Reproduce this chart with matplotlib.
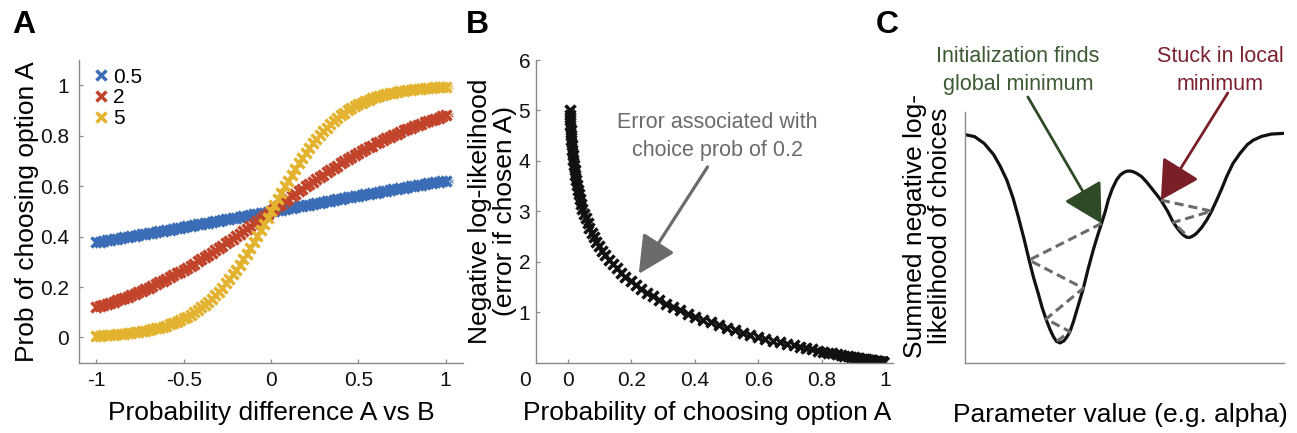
import numpy as np
import matplotlib
matplotlib.use("Agg")
import matplotlib.pyplot as plt

plt.rcParams['font.family'] = ['Liberation Sans', 'DejaVu Sans']

# ---------------- data ----------------
prob_diff = np.round(np.arange(-50, 51) * 0.02, 2)   # x grid for panel A

temp_labels = ['0.5', '2', '5']
p_low = [.378,.380,.382,.385,.387,.389,.392,.394,.397,.399,.401,.404,.406,.409,.411,.413,.416,.418,.421,.423,
         .426,.428,.430,.433,.435,.438,.440,.443,.445,.448,.450,.453,.455,.458,.460,.463,.465,.468,.470,.473,
         .475,.478,.480,.483,.485,.488,.490,.493,.495,.498,
         .500,.502,.505,.507,.510,.512,.515,.517,.520,.522,.525,.527,.530,.532,.535,.537,.540,.542,.545,.547,
         .550,.552,.555,.557,.560,.562,.565,.567,.570,.572,.574,.577,.579,.582,.584,.587,.589,.591,.594,.596,
         .599,.601,.603,.606,.608,.611,.613,.615,.618,.620,.622]
p_mid = [.119,.123,.128,.132,.137,.142,.147,.152,.157,.162,.168,.174,.179,.185,.192,.198,.204,.211,.218,.224,
         .231,.239,.246,.254,.261,.269,.277,.285,.293,.302,.310,.319,.327,.336,.345,.354,.364,.373,.382,.392,
         .401,.411,.421,.430,.440,.450,.460,.470,.480,.490,
         .500,.510,.520,.530,.540,.550,.560,.570,.579,.589,.599,.608,.618,.627,.636,.646,.655,.664,.673,.681,
         .690,.698,.707,.715,.723,.731,.739,.746,.754,.761,.769,.776,.782,.789,.796,.802,.808,.815,.821,.826,
         .832,.838,.843,.848,.853,.858,.863,.868,.872,.877,.881]
p_high = [.007,.007,.008,.009,.010,.011,.012,.013,.015,.016,.018,.020,.022,.024,.027,.029,.032,.036,.039,.043,
          .047,.052,.057,.063,.069,.076,.083,.091,.100,.109,.119,.130,.142,.154,.168,.182,.198,.214,.231,.250,
          .269,.289,.310,.332,.354,.378,.401,.426,.450,.475,
          .500,.525,.550,.574,.599,.622,.646,.668,.690,.711,.731,.750,.769,.786,.802,.818,.832,.846,.858,.870,
          .881,.891,.900,.909,.917,.924,.931,.937,.943,.948,.953,.957,.961,.964,.968,.971,.973,.976,.978,.980,
          .982,.984,.985,.987,.988,.989,.990,.991,.992,.993,.993]
end_x = [1.03]
end_vals = [[0.622], [0.881], [0.993]]

# panel B: probability of choosing A and its negative log-likelihood
prob_A = p_high
neg_ll = [5.007,4.907,4.808,4.709,4.610,4.511,4.412,4.313,4.215,4.116,4.018,3.920,3.822,3.724,3.627,3.530,3.433,
          3.336,3.240,3.144,3.049,2.954,2.859,2.765,2.672,2.579,2.487,2.396,2.305,2.216,2.127,2.039,1.953,1.868,
          1.784,1.701,1.620,1.541,1.463,1.387,1.313,1.241,1.171,1.103,1.037,0.974,0.913,0.854,0.798,0.744,
          0.693,.644,.598,.554,.513,.474,.437,.403,.371,.341,.313,.287,.263,.241,.220,.201,.184,.168,.153,.139,
          .127,.115,.105,.096,.087,.079,.072,.065,.059,.054,.049,.044,.040,.036,.033,.030,.027,.024,.022,.020,
          .018,.016,.015,.013,.012,.011,.010,.009,.008,.007,.007]

# panel C: schematic likelihood surface
param_x = [0, 0.3, 0.6, 0.9, 1.1, 1.31, 1.5, 1.67, 1.85, 2.01, 2.15, 2.3, 2.42, 2.54, 2.66, 2.77, 2.87,
           2.98, 3.10, 3.20, 3.29, 3.40, 3.50, 3.61, 3.71, 3.86, 4.02, 4.15, 4.28, 4.40, 4.49, 4.62, 4.75,
           4.86, 4.96, 5.07, 5.17, 5.27, 5.36, 5.45, 5.54, 5.70, 5.85, 6.00, 6.14, 6.35, 6.53, 6.65, 6.75,
           6.85, 6.95, 7.03, 7.10, 7.18, 7.26, 7.42, 7.58, 7.73, 7.89, 8.05, 8.20, 8.40, 8.62, 8.85, 9.04,
           9.30, 9.60, 10]
surface_y = [9.10, 9.02, 8.75, 8.30, 7.85, 7.29, 6.60, 5.83, 4.95, 4.10, 3.40, 2.75, 2.20, 1.75, 1.35, 1.05,
             0.86, 0.80, 0.88, 1.05, 1.25, 1.65, 2.08, 2.55, 2.98, 3.75, 4.50, 5.05, 5.56, 6.05, 6.49, 6.95,
             7.29, 7.48, 7.58, 7.64, 7.65, 7.62, 7.57, 7.50, 7.42, 7.20, 6.96, 6.72, 6.49, 6.05, 5.60, 5.38,
             5.22, 5.09, 5.01, 5.00, 5.03, 5.09, 5.17, 5.40, 5.70, 6.05, 6.49, 6.95, 7.42, 7.95, 8.35, 8.70,
             8.88, 9.03, 9.12, 9.15]
path_global_x = [4.28, 2.01, 3.71, 2.54, 3.29, 2.87]
path_global_y = [5.56, 4.10, 2.98, 1.75, 1.25, 0.86]
path_local_x = [6.14, 7.73, 6.53, 7.00]
path_local_y = [6.49, 6.05, 5.60, 5.02]

# ---------------- style ----------------
W, H = 1297, 433
fig = plt.figure(figsize=(W / 100, H / 100), dpi=100)

def px_axes(l, t, r, b):
    return fig.add_axes([l / W, 1 - b / H, (r - l) / W, (b - t) / H])

spine_col = '#8a8a8a'
tick_fs = 15
note_fs = 15.5
label_fs = 19
colors = ['#3a6db5', '#c1432a', '#e3b22e']

def style(ax, pad_x=6, pad_y=6):
    for s in ['top', 'right']:
        ax.spines[s].set_visible(False)
    for s in ['left', 'bottom']:
        ax.spines[s].set_color(spine_col)
        ax.spines[s].set_linewidth(1.0)
    ax.tick_params(direction='in', length=3, width=0.9, color=spine_col, labelsize=tick_fs, labelcolor='#111111')
    ax.tick_params(axis='x', pad=pad_x)
    ax.tick_params(axis='y', pad=pad_y)

# ---------------- panel A ----------------
axA = px_axes(79, 60, 463, 362.7)
style(axA, 6, 7)
for vals, c, lab, ev in zip([p_low, p_mid, p_high], colors, temp_labels, end_vals):
    axA.plot(prob_diff, vals, linestyle='none', marker='x', ms=7, mew=2.5, color=c, label=lab)
    axA.plot(end_x, ev, linestyle='none', marker='x', ms=3.5, mew=0.8, color=c, alpha=0.8)
axA.set_xlim(-1.1, 1.1)
axA.set_ylim(-0.1, 1.1)
axA.set_xticks([-1, -0.5, 0, 0.5, 1])
axA.set_xticklabels(['-1', '-0.5', '0', '0.5', '1'])
axA.set_yticks([0, 0.2, 0.4, 0.6, 0.8, 1])
axA.set_yticklabels(['0', '0.2', '0.4', '0.6', '0.8', '1'])
leg = axA.legend(loc='upper left', bbox_to_anchor=(0.042, 0.975), frameon=False, fontsize=tick_fs,
                 handlelength=0.6, handletextpad=0.25, labelspacing=0.08, borderpad=0, borderaxespad=0,
                 markerscale=1.0)
axA.set_xlabel('Probability difference A vs B', fontsize=label_fs)
axA.xaxis.label.set_va('center')
axA.xaxis.set_label_coords(0.5, -0.166)
axA.set_ylabel('Prob of choosing option A', fontsize=label_fs)
axA.yaxis.label.set_va('center')
axA.yaxis.set_label_coords(-0.135, 0.5)

# ---------------- panel B ----------------
axB = px_axes(535.7, 60, 893, 362.7)
style(axB, 6, 4)
axB.plot(prob_A, neg_ll, linestyle='none', marker='x', ms=7, mew=2.5, color='#111111')
axB.set_xlim(-0.1, 1.023)
axB.set_ylim(0, 6)
axB.set_xticks([0, 0.2, 0.4, 0.6, 0.8, 1])
axB.set_xticklabels(['0', '0.2', '0.4', '0.6', '0.8', '1'])
axB.set_yticks([1, 2, 3, 4, 5, 6])
axB.annotate('0', xy=(-0.134, 0), xytext=(0, -6), textcoords='offset points', ha='center', va='top',
             fontsize=tick_fs, color='#111111', annotation_clip=False)
axB.annotate('', xy=(0.224, 1.76), xytext=(0.44, 3.88),
             arrowprops=dict(arrowstyle='-|>,head_length=1.0,head_width=0.5', mutation_scale=23,
                             lw=2.3, color='#6b6b6b', shrinkA=0, shrinkB=0))
axB.text(0.47, 4.49, 'Error associated with\nchoice prob of 0.2', ha='center', va='center',
         fontsize=note_fs, color='#6b6b6b', linespacing=1.45)
axB.set_xlabel('Probability of choosing option A', fontsize=label_fs)
axB.xaxis.label.set_va('center')
axB.xaxis.set_label_coords(0.479, -0.166)
axB.set_ylabel('Negative log-likelihood\n(error if chosen A)', fontsize=label_fs, linespacing=1.05)
axB.yaxis.label.set_va('center')
axB.yaxis.set_label_coords(-0.12, 0.5)

# ---------------- panel C ----------------
axC = px_axes(965, 112, 1284, 363)
style(axC)
axC.set_xticks([])
axC.set_yticks([])
axC.set_xlim(0, 10)
axC.set_ylim(0, 10)
axC.plot(param_x, surface_y, color='#111111', lw=2.3, solid_joinstyle='round')
axC.plot(path_global_x, path_global_y, color='#6b6b6b', lw=2.2, linestyle=(0, (3, 1.6)))
axC.plot(path_local_x, path_local_y, color='#6b6b6b', lw=2.2, linestyle=(0, (3, 1.6)))
green = '#2e4a26'
red = '#7a1e27'
axC.annotate('', xy=(4.28, 5.56), xytext=(1.97, 10.6),
             arrowprops=dict(arrowstyle='-|>,head_length=1.0,head_width=0.55', mutation_scale=24,
                             lw=2.0, color=green, shrinkA=0, shrinkB=0), annotation_clip=False)
axC.annotate('', xy=(6.14, 6.49), xytext=(8.24, 10.76),
             arrowprops=dict(arrowstyle='-|>,head_length=1.0,head_width=0.55', mutation_scale=24,
                             lw=2.0, color=red, shrinkA=0, shrinkB=0), annotation_clip=False)
axC.text(1.66, 11.65, 'Initialization finds\nglobal minimum', ha='center', va='center',
         fontsize=note_fs, color='#3c5a32', linespacing=1.45, clip_on=False)
axC.text(7.99, 11.65, 'Stuck in local\nminimum', ha='center', va='center',
         fontsize=note_fs, color='#7d2030', linespacing=1.45, clip_on=False)
axC.set_xlabel('Parameter value (e.g. alpha)', fontsize=label_fs)
axC.xaxis.label.set_va('center')
axC.xaxis.set_label_coords(0.486, -0.207)
axC.set_ylabel('Summed negative log-\nlikelihood of choices', fontsize=label_fs, linespacing=1.05)
axC.yaxis.label.set_va('center')
axC.yaxis.set_label_coords(-0.119, 0.546)

# panel letters
for lab, xpx in [('A', 23.5), ('B', 477.5), ('C', 887)]:
    fig.text(xpx / W, 1 - 25 / H, lab, fontsize=23, fontweight='bold', ha='center', va='center')

fig.savefig('out.png', dpi=100)
